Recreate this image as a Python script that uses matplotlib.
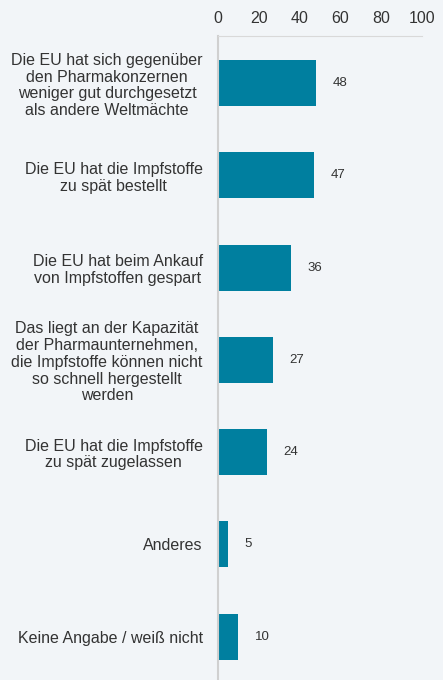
import matplotlib
matplotlib.use("Agg")
import matplotlib.pyplot as plt

# survey answers, top to bottom
labels = [
    "Die EU hat sich gegenüber\nden Pharmakonzernen\nweniger gut durchgesetzt\nals andere Weltmächte",
    "Die EU hat die Impfstoffe\nzu spät bestellt",
    "Die EU hat beim Ankauf\nvon Impfstoffen gespart",
    "Das liegt an der Kapazität\nder Pharmaunternehmen,\ndie Impfstoffe können nicht\nso schnell hergestellt\nwerden",
    "Die EU hat die Impfstoffe\nzu spät zugelassen",
    "Anderes",
    "Keine Angabe / weiß nicht",
]
values = [48, 47, 36, 27, 24, 5, 10]
xticks = [0, 20, 40, 60, 80, 100]

bg = "#f2f5f8"
bar_col = "#007f9f"
txt = "#333333"

plt.rcParams["font.family"] = ["Liberation Sans", "DejaVu Sans"]

fig = plt.figure(figsize=(4.43, 6.80), dpi=100, facecolor=bg)
ax = fig.add_axes([218/443, 0.0, 204/443, 1 - 36/680])
ax.set_facecolor(bg)

ypos = list(range(len(values)))
ax.barh(ypos, values, height=0.5, color=bar_col)
for y, v in zip(ypos, values):
    ax.text(v + 8, y, str(v), va="center", ha="left", fontsize=9.5, color=txt)

ax.set_xlim(0, 100)
ax.set_ylim(6.47, -0.51)
ax.xaxis.tick_top()
ax.set_xticks(xticks)
ax.set_xticklabels([str(t) for t in xticks], fontsize=11.5, color=txt)
ax.set_yticks(ypos)
ax.set_yticklabels(labels, fontsize=11.5, color=txt, multialignment="center",
                   linespacing=1.15)
ax.tick_params(length=0, pad=7)
ax.tick_params(axis="y", pad=11)

for s in ["right", "bottom"]:
    ax.spines[s].set_visible(False)
ax.spines["top"].set_color("#d9d9d9")
ax.spines["left"].set_color("#d0d0d0")
ax.spines["left"].set_linewidth(1.5)

fig.savefig("out.png", dpi=100, facecolor=bg)
